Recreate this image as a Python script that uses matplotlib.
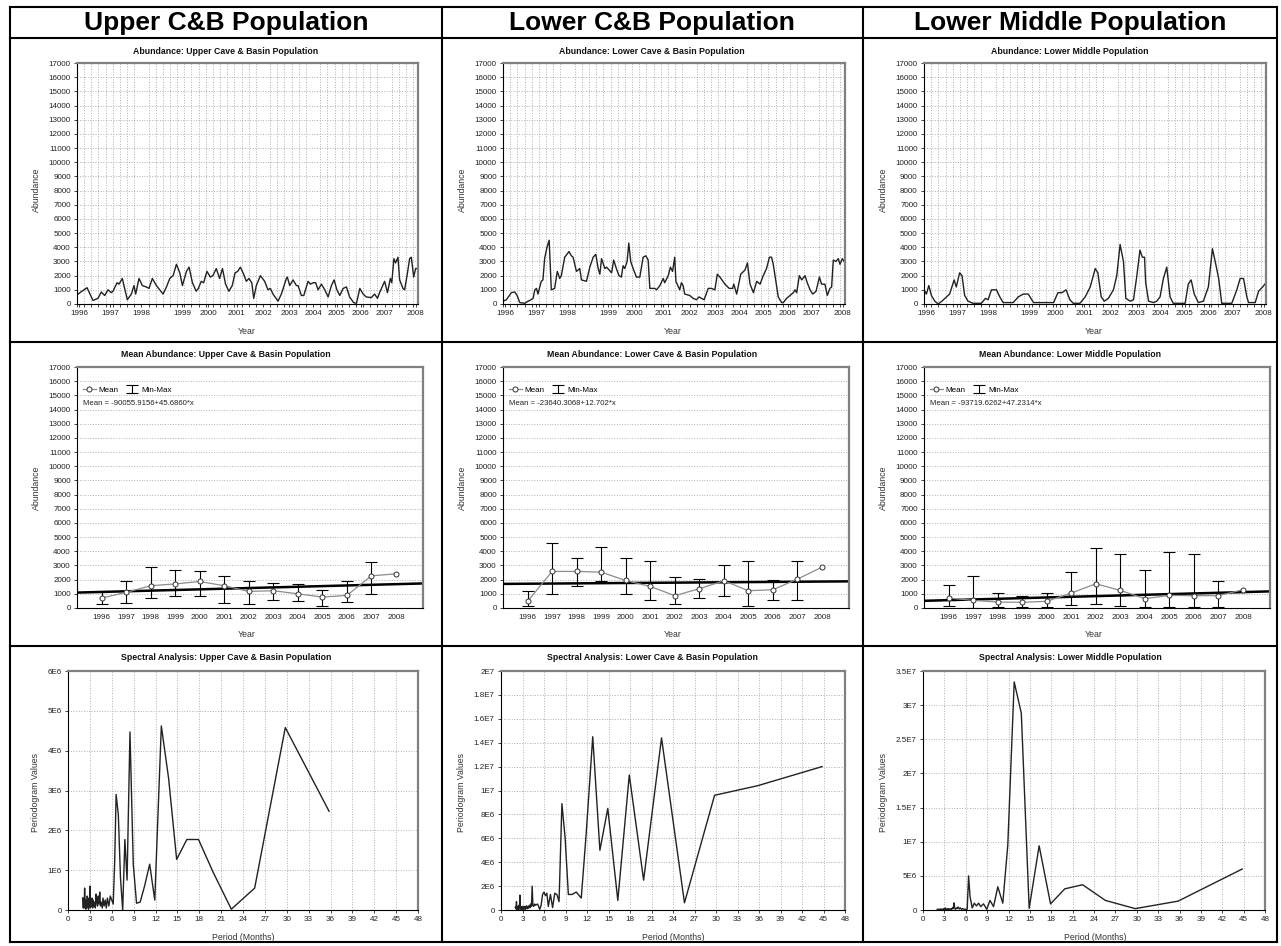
import numpy as np
import matplotlib.pyplot as plt
from matplotlib.lines import Line2D
from matplotlib.ticker import FixedLocator, MultipleLocator, FuncFormatter

plt.rcParams["font.family"] = ["Liberation Sans", "DejaVu Sans"]

W, H = 1281, 946
fig = plt.figure(figsize=(W / 100, H / 100), dpi=100)

# ---------------- data: monthly abundance (x = month index since Jan 1996) ----
up_t = [0, 4.2, 6.7, 8.8, 10.2, 11.6, 13, 14.4, 15.1, 16.8, 17.6, 19, 21.1, 22.8, 23.9, 24.6,
        26, 27.4, 29.1, 30.2, 31.6, 33.3, 34.7, 36.1, 37.5, 38.9, 40.3, 41.7, 43.1, 44.2, 45.9,
        47, 48.4, 50, 50.9, 52.1, 53.1, 54.5, 55.9, 57, 58.4, 59.8, 61, 62.3, 63.7, 65.1, 66.3,
        67.4, 68.5, 69.9, 71, 72.1, 73.3, 74.1, 75.2, 76.9, 78.7, 80.1, 81.1, 82.2, 84.3, 85.7,
        87.8, 88.2, 89.2, 90.6, 92, 92.7, 94.1, 95.1, 96.9, 97.9, 99, 100.1, 101.1, 102.5, 103.9,
        105.3, 106.7, 107.8, 109, 110.2, 111.6, 113, 114.3, 116, 117.2, 118.6, 120, 121.3, 123.4,
        124.8, 126, 126.9, 129, 130.2, 131.4, 132, 132.9, 133.6, 134.6, 135.3, 136.7, 137.4,
        138.4, 139.5, 140.2, 141.2, 142, 143]
up_n = [650, 1150, 250, 400, 850, 600, 1000, 800, 900, 1500, 1400, 1800, 300, 700, 1300, 700,
        1800, 1300, 1200, 1100, 1800, 1300, 1000, 700, 1200, 1800, 2000, 2800, 2200, 1300, 2300,
        2600, 1500, 900, 1100, 1600, 1500, 2300, 1900, 2000, 2500, 1800, 2500, 1400, 900, 1300,
        2200, 2300, 2600, 2100, 1600, 1800, 1500, 400, 1300, 2000, 1600, 1000, 1100, 700, 200,
        700, 1800, 1900, 1300, 1700, 1300, 1300, 600, 600, 1600, 1400, 1500, 1500, 1000, 1400,
        1000, 500, 1300, 1700, 1000, 600, 1100, 1200, 500, 100, 50, 1100, 700, 500, 450, 700,
        400, 800, 1600, 800, 1800, 1500, 3200, 2900, 3300, 1700, 1100, 1000, 2000, 3200, 3300,
        1900, 2500, 2500]

lo_t = [0, 1.4, 3.5, 4.9, 5.9, 7, 9.1, 10.5, 11.2, 12.6, 13.3, 14, 14.6, 16, 16.7, 17.4, 18.4,
        19.3, 20.2, 21.6, 22.7, 23.7, 24.4, 25.8, 27.6, 28.6, 29.3, 30.7, 32.1, 32.8, 34.9, 36.3,
        37.7, 38.8, 39.8, 40.5, 41.2, 42.6, 43.3, 45.4, 46.3, 47.4, 48.5, 49.5, 50.2, 50.9, 51.9,
        52.6, 53.4, 54.4, 55.8, 57.2, 58.6, 59.7, 60.7, 61.4, 63.5, 64.2, 65.6, 67, 67.6, 69.1,
        70, 70.9, 71.8, 72.3, 73.9, 74.6, 75.3, 76, 78.1, 79.5, 80.9, 82, 83, 84.1, 85.8, 87.2,
        88.6, 89.6, 90.7, 92.8, 94.6, 96, 96.5, 97.7, 99.4, 101.2, 102.2, 103.3, 104.7, 106.1,
        107.5, 108.8, 110.2, 111.4, 112.3, 113, 115.1, 116.5, 117.2, 118.6, 120, 121.4, 122.1,
        122.8, 123.9, 124.9, 126.3, 127.2, 128.4, 129.5, 130.9, 132.3, 133.2, 134.6, 135.6,
        136.7, 137.4, 138.1, 139.2, 140.2, 140.9, 141.9, 143]
lo_n = [200, 300, 800, 850, 600, 100, 50, 200, 250, 400, 1000, 1100, 700, 1600, 1700, 3200, 4000,
        4500, 1000, 1100, 2300, 1800, 2000, 3300, 3700, 3400, 3300, 2300, 2500, 1700, 1600, 2600,
        3300, 3500, 2500, 2100, 3200, 2500, 2600, 2200, 3100, 2500, 2000, 1900, 2700, 2500, 3000,
        4300, 3000, 2500, 1900, 1900, 3300, 3400, 3100, 1100, 1100, 1000, 1300, 1800, 1500, 2000,
        2600, 2300, 3300, 1600, 1000, 1500, 1300, 700, 600, 400, 300, 500, 400, 300, 1100, 1100,
        1000, 2100, 1900, 1400, 1100, 1100, 1400, 700, 2100, 2400, 2900, 1400, 800, 1600,
        1400, 2000, 2500, 3300, 3300, 2800, 500, 100, 100, 400, 600, 800, 1000,
        800, 2000, 1700, 2000, 1500, 1000, 700, 900, 1900, 1400, 1400, 600,
        1100, 1200, 3100, 3000, 3200, 2800, 3200, 2900]

mid_t = [0, 1, 2, 3.1, 4.5, 5.9, 7.5, 9.4, 10.7, 12.6, 13.5, 14.9, 15.9, 17, 18.4, 20.5, 24, 25.7,
         26.8, 28.2, 30.3, 31.7, 33.1, 37.3, 39.4, 41.5, 43.6, 45.8, 50, 54.2, 56, 57.7, 59.4, 61,
         62.4, 65.2, 67.4, 69.5, 71.6, 72.7, 74.1, 75.4, 77.1, 79.2, 80.6, 82, 83.4, 84.4, 86.2,
         87.6, 89, 90.3, 91.3, 92.2, 92.7, 93.9, 96, 97.3, 98.7, 100.1, 101.5, 102.9, 104.2,
         109.2, 110.5, 111.7, 113, 114.7, 116.8, 118.9, 120.6, 122, 123.2, 124.5, 128.7, 130.8,
         132.2, 133.6, 135, 135.7, 138.5, 139.9, 141.6, 143]
mid_n = [1000, 700, 1300, 600, 200, 0, 200, 500, 700, 1700, 1200, 2200, 2000, 600, 200, 50, 50, 400,
         300, 1000, 1000, 500, 100, 100, 500, 700, 700, 100, 100, 100, 800, 800, 1000, 300,
         50, 50, 500, 1200, 2500, 2200, 500, 200, 400, 1000, 2000, 4200, 3000, 400, 200,
         300, 2000, 3800, 3300, 3300, 1500, 200, 100, 200, 500, 1800, 2600, 500, 50,
         50, 1400, 1700, 700, 100, 200, 1200, 3900, 2800, 1800, 50, 50, 1000,
         1800, 1800, 500, 100, 100, 900, 1200, 1500]

year_labels = [str(y) for y in range(1996, 2009)]
year_pos = [1, 14, 27, 44, 55, 67, 78, 89, 99, 109, 119, 129, 142]

# ---------------- data: yearly mean / min / max -------------------------------
years = list(range(1996, 2009))
up_mean = [700, 1100, 1570, 1700, 1870, 1570, 1170, 1220, 1000, 770, 890, 2270, 2410]
up_min = [300, 350, 680, 820, 820, 350, 260, 540, 470, 120, 420, 1000, np.nan]
up_max = [1150, 1870, 2900, 2670, 2600, 2270, 1870, 1760, 1710, 1290, 1870, 3280, np.nan]
lo_mean = [470, 2580, 2580, 2530, 1940, 1520, 870, 1360, 1920, 1220, 1290, 2040, 2880]
lo_min = [120, 1000, 1570, 1870, 1000, 540, 300, 700, 820, 120, 590, 540, np.nan]
lo_max = [1170, 4620, 3520, 4330, 3520, 3350, 2180, 2040, 3000, 3350, 2000, 3350, np.nan]
mid_mean = [700, 540, 420, 400, 470, 1050, 1710, 1240, 660, 890, 870, 870, 1290]
mid_min = [160, 30, 70, 50, 50, 210, 280, 140, 70, 70, 70, 50, np.nan]
mid_max = [1640, 2270, 1050, 870, 1050, 2530, 4260, 3840, 2670, 3960, 3840, 1870, np.nan]
trend = {"up": (-90055.9156, 45.6860), "lo": (-23640.3068, 12.702), "mid": (-93719.6262, 47.2314)}
trend_txt = {"up": "Mean = -90055.9156+45.6860*x", "lo": "Mean = -23640.3068+12.702*x",
             "mid": "Mean = -93719.6262+47.2314*x"}

# ---------------- data: periodogram (values in units of 1E6) ------------------
periods = [2.0, 2.05, 2.1, 2.16, 2.22, 2.28, 2.34, 2.4, 2.46, 2.52, 2.58, 2.64, 2.7, 2.76, 2.82,
           2.88, 2.94, 3.0, 3.08, 3.15, 3.22, 3.3, 3.38, 3.45, 3.55, 3.65, 3.75, 3.85, 3.95, 4.05,
           4.15, 4.25, 4.35, 4.45, 4.55, 4.7, 4.8, 4.95, 5.1, 5.25, 5.4, 5.6, 5.8, 6.0,
           6.2, 6.4, 6.6, 6.9, 7.2, 7.5, 7.8, 8.1, 8.5, 8.95, 9.4, 9.9, 10.5, 11.2, 11.9, 12.8,
           13.8, 14.9, 16.3, 17.9, 19.9, 22.4, 25.6, 29.8, 35.8, 44.8]
up_pg = [0.3, 0.2, 0.05, 0.3, 0.05, 0.55, 0.1, 0.25, 0.02, 0.15, 0.05, 0.35, 0.1, 0.2, 0.02, 0.3,
         0.1, 0.6, 0.05, 0.2, 0.1, 0.3, 0.05, 0.25, 0.1, 0.2, 0.05, 0.4, 0.2, 0.1, 0.35, 0.15,
         0.45, 0.1, 0.2, 0.05, 0.3, 0.1, 0.25, 0.05, 0.3, 0.1, 0.35, 0.25,
         0.15, 1.2, 2.9, 2.4, 0.8, 0.0, 1.77, 0.75, 4.47, 1.15, 0.17, 0.2, 0.6, 1.15, 0.25, 4.62,
         3.3, 1.27, 1.77, 1.77, 0.95, 0.02, 0.55, 4.58, 2.48, np.nan]
lo_pg = [0.2, 0.3, 0.1, 0.7, 0.05, 0.2, 0.1, 0.3, 0.05, 0.4, 0.1, 1.25, 0.1, 0.3, 0.05, 0.2,
         0.1, 0.3, 0.05, 0.25, 0.1, 0.3, 0.05, 0.2, 0.35, 0.1, 0.3, 0.15, 0.4, 0.2, 0.5, 0.3,
         2.0, 0.4, 0.3, 0.5, 0.4, 0.45, 0.5, 0.3, 0.05, 0.4, 1.3, 1.5,
         1.2, 1.4, 0.3, 1.3, 0.2, 1.4, 1.3, 0.7, 8.9, 6.0, 1.3, 1.3, 1.5, 1.0, 6.5, 14.5,
         5.0, 8.5, 0.8, 11.3, 2.5, 14.4, 0.6, 9.6, 10.4, 12.0]
mid_pg = [0.1, 0.1, 0.05, 0.1, 0.05, 0.1, 0.05, 0.1, 0.05, 0.15, 0.05, 0.1, 0.05, 0.1, 0.05, 0.15,
          0.05, 0.2, 0.05, 0.3, 0.1, 0.05, 0.15, 0.05, 0.2, 0.1, 0.15, 0.05, 0.2, 0.1, 0.35, 0.2,
          1.05, 0.3, 0.1, 0.3, 0.2, 0.45, 0.15, 0.3, 0.1, 0.2, 0.1, 0.1,
          0.1, 5.0, 2.0, 0.3, 1.0, 0.6, 1.0, 0.5, 0.9, 0.1, 1.4, 0.5, 3.4, 1.0, 9.5, 33.4,
          28.8, 0.25, 9.4, 0.9, 3.1, 3.7, 1.4, 0.2, 1.3, 6.0]

headers = ["Upper C&B Population", "Lower C&B Population", "Lower Middle Population"]
names = ["Upper Cave & Basin Population", "Lower Cave & Basin Population", "Lower Middle Population"]

# ---------------- layout helpers (pixel boxes) --------------------------------
def add_ax(l, t, r, b):
    return fig.add_axes([l / W, 1 - b / H, (r - l) / W, (b - t) / H])

def ftext(x, y, s, **kw):
    fig.text(x / W, 1 - y / H, s, ha="center", va="center", **kw)

def style(ax):
    for s in ("left", "bottom"):
        ax.spines[s].set_color("black"); ax.spines[s].set_linewidth(0.8)
    for s in ("top", "right"):
        ax.spines[s].set_color("#808080"); ax.spines[s].set_linewidth(1.6)
    ax.tick_params(labelsize=5.8, length=2.5, width=0.6, pad=2, colors="#222")
    ax.tick_params(which="minor", length=2.5, width=0.5)

grid_kw = dict(color="#b0b0b0", linestyle=":", linewidth=0.7)

def sci(v, pos):
    if v <= 0:
        return "0"
    e = int(np.floor(np.log10(v) + 1e-9))
    return f"{v / 10 ** e:g}E{e}"

# table frame
xs = [10, 442, 863, 1277]
ys = [7, 38, 342, 646, 942]
for x in xs:
    fig.add_artist(Line2D([x / W, x / W], [1 - ys[0] / H, 1 - ys[-1] / H], color="black", lw=1.5))
for y in ys:
    fig.add_artist(Line2D([xs[0] / W, xs[-1] / W], [1 - y / H, 1 - y / H], color="black", lw=1.5))

col_c = [226, 652, 1070]
for c, h in zip(col_c, headers):
    ftext(c, 23, h, fontsize=19, fontweight="bold")

title_kw = dict(fontsize=6.3, fontweight="bold", color="#111")
lab_kw = dict(fontsize=6.3, color="#333")
ylab_x = [36, 462, 883]

# ---------------- row 1: abundance time series --------------------------------
row1_box = [(77, 63, 418, 304), (503, 63, 845, 304), (924, 63, 1266, 304)]
series = [(up_t, up_n), (lo_t, lo_n), (mid_t, mid_n)]
xl_c1 = [247, 673, 1094]
for i, (box, (t, n)) in enumerate(zip(row1_box, series)):
    ax = add_ax(*box)
    style(ax)
    ax.plot(t, n, color="#222", lw=1.0)
    ax.set_xlim(0, 143)
    ax.set_ylim(0, 17000)
    ax.yaxis.set_major_locator(MultipleLocator(1000))
    ax.xaxis.set_major_locator(FixedLocator(year_pos))
    ax.set_xticklabels(year_labels)
    ax.xaxis.set_minor_locator(MultipleLocator(3))
    ax.grid(True, which="minor", axis="x", **grid_kw)
    ax.grid(True, which="major", axis="y", **grid_kw)
    ftext(col_c[i], 52, "Abundance: " + names[i], **title_kw)
    ftext(ylab_x[i], 190, "Abundance", rotation=90, **lab_kw)
    ftext(xl_c1[i], 331, "Year", **lab_kw)

# ---------------- row 2: yearly mean with min-max -----------------------------
row2_box = [(77, 367, 423, 608), (503, 367, 849, 608), (924, 367, 1270, 608)]
yearly = [(up_mean, up_min, up_max, "up"), (lo_mean, lo_min, lo_max, "lo"),
          (mid_mean, mid_min, mid_max, "mid")]
for i, (box, (mn, lo, hi, key)) in enumerate(zip(row2_box, yearly)):
    ax = add_ax(*box)
    style(ax)
    xlim = (1995.0, 2009.1)
    a, b = trend[key]
    ax.plot(xlim, [a + b * xlim[0], a + b * xlim[1]], color="black", lw=1.8, zorder=2)
    mn_a, lo_a, hi_a = np.array(mn, float), np.array(lo, float), np.array(hi, float)
    ok = ~np.isnan(lo_a)
    eb = ax.errorbar(np.array(years)[ok], mn_a[ok], yerr=[mn_a[ok] - lo_a[ok], hi_a[ok] - mn_a[ok]],
                     fmt="none", ecolor="black", elinewidth=0.8, capsize=4.5, capthick=0.8,
                     zorder=3, label="Min-Max")
    ln, = ax.plot(years, mn, color="#8c8c8c", lw=0.9, marker="o", ms=3.6, mfc="white",
                  mec="#333", mew=0.7, zorder=4, label="Mean")
    ax.set_xlim(*xlim)
    ax.set_ylim(0, 17000)
    ax.yaxis.set_major_locator(MultipleLocator(1000))
    ax.set_xticks(years)
    ax.tick_params(axis="x", length=0, pad=4)
    ax.grid(True, axis="y", **grid_kw)
    ax.legend(handles=[ln, eb], loc="center left", bbox_to_anchor=(0.0, 0.905), ncol=2,
              frameon=False, fontsize=5.8, handlelength=1.6, handletextpad=0.4,
              columnspacing=0.8, borderaxespad=0.3)
    ax.text(0.017, 0.85, trend_txt[key], transform=ax.transAxes, fontsize=5.6,
            va="center", ha="left", color="#222")
    ftext(col_c[i], 354, "Mean Abundance: " + names[i], **title_kw)
    ftext(ylab_x[i], 488, "Abundance", rotation=90, **lab_kw)
    ftext(xl_c1[i], 634, "Year", **lab_kw)

# ---------------- row 3: spectral analysis ------------------------------------
row3_box = [(68, 671, 418, 910), (501, 671, 845, 910), (923, 671, 1265, 910)]
pgs = [(up_pg, 6e6, 1e6), (lo_pg, 2e7, 2e6), (mid_pg, 3.5e7, 5e6)]
xl_c3 = [243, 673, 1095]
for i, (box, (pg, ymax, step)) in enumerate(zip(row3_box, pgs)):
    ax = add_ax(*box)
    style(ax)
    ax.plot(periods, np.array(pg) * 1e6, color="#222", lw=1.0)
    ax.set_xlim(0, 48)
    ax.set_ylim(0, ymax)
    ax.xaxis.set_major_locator(MultipleLocator(3))
    ax.yaxis.set_major_locator(MultipleLocator(step))
    ax.yaxis.set_major_formatter(FuncFormatter(sci))
    ax.grid(True, **grid_kw)
    ftext(col_c[i], 658, "Spectral Analysis: " + names[i], **title_kw)
    ftext(ylab_x[i], 792, "Periodogram Values", rotation=90, **lab_kw)
    ftext(xl_c3[i], 937, "Period (Months)", **lab_kw)

fig.savefig("out.png", dpi=100)
